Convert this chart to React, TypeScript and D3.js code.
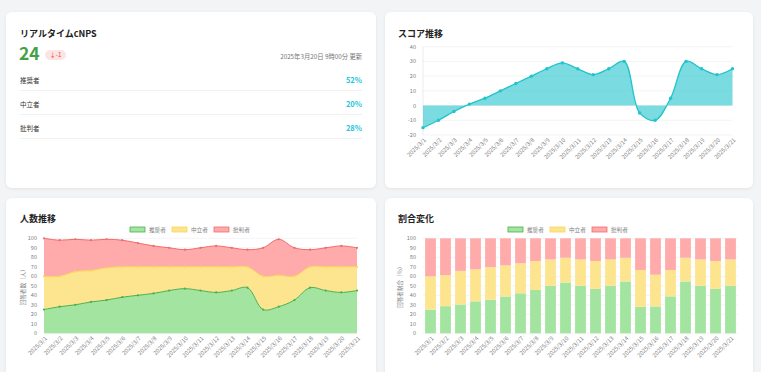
import React from 'react';
import * as d3 from 'd3';

const FONT = '"Noto Sans CJK JP", "Noto Sans", sans-serif';

const dates = [
  '2025/3/1', '2025/3/2', '2025/3/3', '2025/3/4', '2025/3/5', '2025/3/6', '2025/3/7',
  '2025/3/8', '2025/3/9', '2025/3/10', '2025/3/11', '2025/3/12', '2025/3/13', '2025/3/14',
  '2025/3/15', '2025/3/16', '2025/3/17', '2025/3/18', '2025/3/19', '2025/3/20', '2025/3/21',
];

const scores = [-15, -10, -4, 1, 5, 10, 15, 20, 25, 29, 25, 21, 25, 30, -5, -10, 5, 30, 25, 21, 25];

const promoters = [25, 28, 30, 33, 35, 38, 40, 42, 45, 47, 45, 43, 45, 48, 25, 28, 35, 48, 45, 43, 45];
const passives = [35, 32, 35, 33, 34, 32, 30, 28, 25, 23, 25, 27, 25, 22, 35, 33, 25, 22, 25, 27, 25];
const detractors = [40, 38, 34, 32, 30, 28, 25, 22, 20, 18, 20, 22, 20, 18, 30, 38, 30, 18, 20, 22, 20];

const seriesNames = ['推奨者', '中立者', '批判者'];
const summaryShares = [52, 20, 28];
const currentScore = 24;
const scoreDelta = -1;
const updatedAt = '2025年3月20日 9時00分 更新';

const fills = ['#a3e4a1', '#fde58f', '#ffabab'];
const strokes = ['#4caf50', '#fbd458', '#ef6b6b'];
const teal = '#22c3cb';

type Row = { date: string; p: number; n: number; d: number };
const rows: Row[] = dates.map((date, i) => ({ date, p: promoters[i], n: passives[i], d: detractors[i] }));
const keys = ['p', 'n', 'd'];

const curve = d3.curveCatmullRom.alpha(0.5);

const XLabels = ({ xs, labels, y0 }: { xs: number[]; labels: string[]; y0: number }) => (
  <g fontSize={5.8} fill="#808080">
    {labels.map((t, i) => (
      <text key={t} transform={`translate(${xs[i] + 2},${y0 + 4}) rotate(-45)`} textAnchor="end" dy="0.35em">
        {t}
      </text>
    ))}
  </g>
);

const YAxis = ({ y, left, right, ticks }: { y: d3.ScaleLinear<number, number>; left: number; right: number; ticks: number[] }) => (
  <g>
    {ticks.map(t => (
      <g key={t}>
        <line x1={left} x2={right} y1={y(t)} y2={y(t)} stroke="#ececec" strokeWidth={0.6} />
        <text x={left - 7} y={y(t)} dy="0.35em" textAnchor="end" fontSize={5.6} fill="#808080">{t}</text>
      </g>
    ))}
  </g>
);

const Legend = ({ x, y }: { x: number; y: number }) => {
  const offs = [0, 42, 84];
  return (
    <g fontSize={5.6} fill="#808080">
      {seriesNames.map((s, i) => (
        <g key={s} transform={`translate(${x + offs[i]},${y})`}>
          <rect x={0} y={0} width={15} height={5} fill={fills[i]} stroke={strokes[i]} strokeWidth={0.8} />
          <text x={19} y={2.6} dy="0.35em">{s}</text>
        </g>
      ))}
    </g>
  );
};

const Summary = () => {
  const lineYs = [90.5, 114.5, 138.5];
  return (
    <g>
      <text x={20} y={37} fontSize={9} fontWeight={600} fill="#222">リアルタイムcNPS</text>
      <text x={19} y={60} fontSize={17.5} fontWeight={700} fill="#43a047">{currentScore}</text>
      <rect x={45} y={50} width={21} height={10} rx={5} fill="#fde4e4" />
      <text x={55.5} y={55} dy="0.35em" textAnchor="middle" fontSize={6} fill="#e53935">↓{scoreDelta}</text>
      <text x={362} y={59} textAnchor="end" fontSize={6.3} fill="#777">{updatedAt}</text>
      {seriesNames.map((s, i) => (
        <g key={s}>
          <text x={20} y={lineYs[i] - 8} fontSize={6.5} fill="#333">{s}</text>
          <text x={362} y={lineYs[i] - 8} textAnchor="end" fontSize={7.5} fontWeight={600} fill="#26c6da">{summaryShares[i]}%</text>
          <line x1={20} x2={362} y1={lineYs[i]} y2={lineYs[i]} stroke="#eeeeee" strokeWidth={0.8} />
        </g>
      ))}
    </g>
  );
};

const ScoreChart = () => {
  const left = 423, right = 732.5, top = 46.7, bottom = 135;
  const x = d3.scalePoint<string>().domain(dates).range([left, right]);
  const y = d3.scaleLinear().domain([-20, 40]).range([bottom, top]);
  const area = d3.area<number>().x((_, i) => x(dates[i])!).y0(y(0)).y1(d => y(d)).curve(curve);
  const line = d3.line<number>().x((_, i) => x(dates[i])!).y(d => y(d)).curve(curve);
  return (
    <g>
      <text x={398} y={37} fontSize={9} fontWeight={700} fill="#222">スコア推移</text>
      <YAxis y={y} left={left} right={right} ticks={y.ticks(6)} />
      <line x1={left} x2={left} y1={top} y2={bottom} stroke="#e2e2e2" strokeWidth={0.7} />
      <path d={area(scores)!} fill={teal} fillOpacity={0.6} />
      <path d={line(scores)!} fill="none" stroke={teal} strokeWidth={1.3} />
      {scores.map((s, i) => (
        <circle key={i} cx={x(dates[i])} cy={y(s)} r={1.7} fill={teal} />
      ))}
      <XLabels xs={dates.map(d => x(d)!)} labels={dates} y0={bottom} />
    </g>
  );
};

const CountChart = () => {
  const left = 44, right = 357, top = 238.3, bottom = 333.3;
  const x = d3.scalePoint<string>().domain(dates).range([left, right]);
  const y = d3.scaleLinear().domain([0, 100]).range([bottom, top]);
  const stack = d3.stack<Row>().keys(keys)(rows);
  const area = d3.area<d3.SeriesPoint<Row>>()
    .x(d => x(d.data.date)!)
    .y0(d => y(d[0]))
    .y1(d => y(d[1]))
    .curve(curve);
  const line = d3.line<d3.SeriesPoint<Row>>().x(d => x(d.data.date)!).y(d => y(d[1])).curve(curve);
  return (
    <g>
      <text x={20} y={222} fontSize={9} fontWeight={700} fill="#222">人数推移</text>
      <Legend x={130} y={227} />
      <YAxis y={y} left={left} right={right} ticks={y.ticks(10)} />
      <text transform={`translate(25,${(top + bottom) / 2}) rotate(-90)`} textAnchor="middle" fontSize={5.6} fill="#808080">回答者数（人）</text>
      {stack.map((s, i) => (
        <path key={s.key} d={area(s)!} fill={fills[i]} />
      ))}
      {stack.map((s, i) => (
        <g key={s.key}>
          <path d={line(s)!} fill="none" stroke={strokes[i]} strokeWidth={1} />
          {s.map((d, j) => (
            <circle key={j} cx={x(d.data.date)} cy={y(d[1])} r={1.1} fill={strokes[i]} />
          ))}
        </g>
      ))}
      <XLabels xs={dates.map(d => x(d)!)} labels={dates} y0={bottom} />
    </g>
  );
};

const RatioChart = () => {
  const left = 423, right = 738, top = 238.3, bottom = 333.3;
  const x = d3.scaleBand<string>().domain(dates).range([left, right]).paddingInner(0.28).paddingOuter(0.14);
  const y = d3.scaleLinear().domain([0, 1]).range([bottom, top]);
  const yPct = d3.scaleLinear().domain([0, 100]).range([bottom, top]);
  const stack = d3.stack<Row>().keys(keys).offset(d3.stackOffsetExpand)(rows);
  return (
    <g>
      <text x={398} y={222} fontSize={9} fontWeight={700} fill="#222">割合変化</text>
      <Legend x={508} y={227} />
      <YAxis y={yPct} left={left} right={right} ticks={yPct.ticks(10)} />
      <text transform={`translate(402,${(top + bottom) / 2}) rotate(-90)`} textAnchor="middle" fontSize={5.6} fill="#808080">回答者割合（%）</text>
      {stack.map((s, i) => (
        <g key={s.key} fill={fills[i]}>
          {s.map((d, j) => (
            <rect key={j} x={x(d.data.date)} width={x.bandwidth()} y={y(d[1])} height={y(d[0]) - y(d[1])} />
          ))}
        </g>
      ))}
      <XLabels xs={dates.map(d => x(d)! + x.bandwidth() / 2)} labels={dates} y0={bottom} />
    </g>
  );
};

export default function App() {
  const cards = [
    { x: 6, y: 12, w: 370, h: 176 },
    { x: 385, y: 12, w: 368, h: 176 },
    { x: 6, y: 198, w: 370, h: 190 },
    { x: 385, y: 198, w: 368, h: 190 },
  ];
  return (
    <svg width={761} height={372} style={{ position: 'absolute', left: 0, top: 0, fontFamily: FONT }}>
      <defs>
        <filter id="shadow" x="-5%" y="-5%" width="110%" height="115%">
          <feDropShadow dx={0} dy={1} stdDeviation={1.5} floodColor="#000" floodOpacity={0.07} />
        </filter>
      </defs>
      <rect width={761} height={372} fill="#f3f4f6" />
      {cards.map((c, i) => (
        <rect key={i} x={c.x} y={c.y} width={c.w} height={c.h} rx={6} fill="#fff" filter="url(#shadow)" />
      ))}
      <Summary />
      <ScoreChart />
      <CountChart />
      <RatioChart />
    </svg>
  );
}
